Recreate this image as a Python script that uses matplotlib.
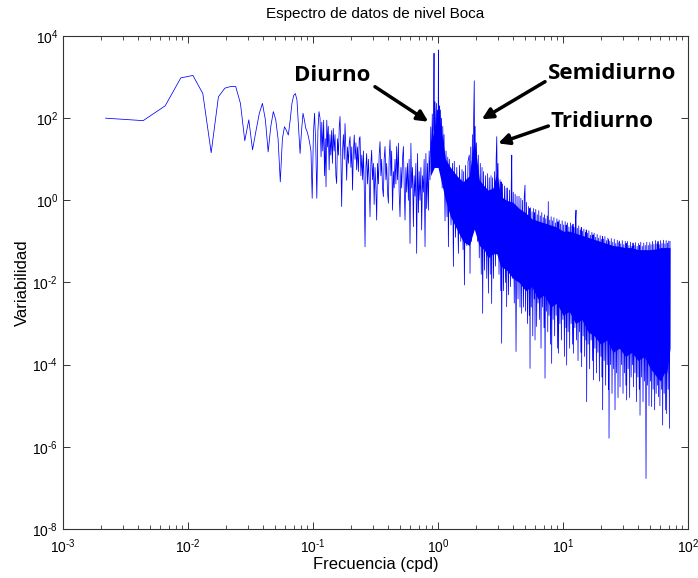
import numpy as np
import matplotlib
matplotlib.use("Agg")
import matplotlib.pyplot as plt
from matplotlib.ticker import LogLocator, FuncFormatter, NullFormatter, FixedLocator

# ---------------------------------------------------------------------------
# Spectrum of the "Boca" water-level record (10-minute sampling, ~457 days)
# ---------------------------------------------------------------------------
df_cpd = 1.0 / 457.0          # frequency resolution (cpd)

# First harmonics k = 1..53, log10 of variance
low_log_power = [2.00, 1.94, 2.30, 2.98, 3.04, 2.60, 1.16, 2.52, 2.73, 2.77,
                 2.77, 2.36, 1.45, 1.96, 1.23, 1.70, 2.12, 2.36, 1.96, 1.18,
                 1.80, 2.16, 1.96, 1.50, 0.45, 1.50, 1.79, 1.70, 1.59, 1.95,
                 2.36, 2.55, 2.60, 2.44, 1.80, 1.14, 1.70, 2.12, 1.95, 1.75,
                 1.67, 1.55, 1.39, 1.20, 0.05, 1.60, 2.12, 1.40, 0.05, 1.70,
                 2.16, 2.00, 1.06]

# 0.12 - 5.3 cpd: log10(frequency) and log10(variance) of the trace
trace_logf = [
    -0.930, -0.922, -0.915, -0.908, -0.902, -0.896, -0.890, -0.884, -0.878, -0.871,
    -0.865, -0.858, -0.851, -0.845, -0.838, -0.831, -0.824, -0.817, -0.811, -0.804,
    -0.797, -0.790, -0.784, -0.777, -0.771, -0.764, -0.757, -0.750, -0.744, -0.737,
    -0.731, -0.724, -0.717, -0.710, -0.704, -0.697, -0.690, -0.684, -0.677, -0.670,
    -0.664, -0.657, -0.651, -0.644, -0.637, -0.630, -0.624, -0.617, -0.610, -0.603,
    -0.597, -0.590, -0.584, -0.577, -0.571, -0.564, -0.557, -0.551, -0.544, -0.537,
    -0.531, -0.524, -0.517, -0.511, -0.504, -0.497, -0.491, -0.484, -0.477, -0.471,
    -0.464, -0.457, -0.451, -0.444, -0.437, -0.431, -0.424, -0.417, -0.411, -0.404,
    -0.397, -0.391, -0.384, -0.377, -0.371, -0.364, -0.357, -0.351, -0.344, -0.337,
    -0.331, -0.324, -0.317, -0.311, -0.304, -0.297, -0.291, -0.284, -0.277, -0.271,
    -0.264, -0.257, -0.251, -0.244, -0.237, -0.231, -0.224, -0.217, -0.211, -0.204,
    -0.197, -0.191, -0.184, -0.177, -0.171, -0.164, -0.157, -0.151, -0.144, -0.137,
    -0.131, -0.124, -0.117, -0.111, -0.104, -0.097, -0.091, -0.084, -0.077, -0.071,
    -0.064, -0.058, -0.052, -0.046, -0.040, -0.035, -0.032, -0.029, -0.024, -0.018,
    -0.013, -0.008, -0.004, 0.001, 0.003, 0.006, 0.010, 0.014, 0.019, 0.023,
    0.028, 0.033, 0.038, 0.043, 0.048, 0.056, 0.064, 0.072, 0.078, 0.083,
    0.090, 0.104, 0.116, 0.123, 0.130, 0.140, 0.150, 0.163, 0.172, 0.182,
    0.192, 0.200, 0.205, 0.211, 0.220, 0.230, 0.240, 0.250, 0.256, 0.262,
    0.268, 0.275, 0.280, 0.285, 0.290, 0.293, 0.297, 0.302, 0.308, 0.315,
    0.322, 0.330, 0.338, 0.346, 0.352, 0.357, 0.364, 0.372, 0.380, 0.390,
    0.397, 0.403, 0.410, 0.418, 0.424, 0.429, 0.436, 0.444, 0.452, 0.460,
    0.465, 0.470, 0.474, 0.480, 0.488, 0.496, 0.502, 0.505, 0.509, 0.516,
    0.524, 0.532, 0.540, 0.545, 0.549, 0.556, 0.564, 0.572, 0.580, 0.586,
    0.590, 0.594, 0.602, 0.610, 0.617, 0.624, 0.632, 0.640, 0.648, 0.656,
    0.663, 0.669, 0.676, 0.684, 0.690, 0.696, 0.700, 0.708, 0.716, 0.724,
]
trace_log = [
    1.90, 1.20, 1.95, 0.60, 1.50, 0.33, 1.95, 1.30, 1.80, 0.74,
    1.60, 1.10, 1.70, 0.90, 1.75, 1.20, 1.60, 0.60, 0.41, 1.50,
    1.10, 1.80, 2.04, 1.00, -0.15, 1.20, 1.60, 1.00, 1.87, 1.20,
    0.49, 1.30, 0.90, 1.40, 1.55, 0.80, 1.30, 0.25, 1.20, 1.59,
    1.00, 1.40, 0.74, 1.30, 0.70, 1.50, 1.55, 0.60, 1.10, 0.50,
    1.20, 0.30, -1.13, 0.80, 1.14, 0.40, 1.00, 0.50, -0.40, 0.90,
    1.22, 0.50, 0.90, -0.10, 0.80, 0.30, -0.48, 0.90, 0.40, 1.10,
    1.43, 0.60, 1.00, 0.30, 0.09, 1.00, 1.31, 0.50, 0.90, 0.20,
    -0.07, 1.00, 1.47, 0.60, 1.20, -0.24, 0.70, 0.30, 1.00, 0.40,
    1.31, 0.50, 1.39, 0.20, -0.40, 0.80, 0.30, 1.00, 1.31, 0.40,
    -0.48, 0.80, 0.20, 0.90, 0.00, 1.00, -1.05, 1.39, 0.30, 0.80,
    -0.64, 0.60, 0.10, 0.90, -1.29, 1.14, -0.30, 0.70, 0.00, 0.80,
    -0.72, 0.60, 0.20, 1.00, -1.13, 1.14, -0.20, 0.90, -0.24, 1.20,
    0.50, 1.79, 0.80, 2.10, 1.20, 2.30, 3.58, 1.40, 2.40, 1.00,
    2.36, 0.90, 2.20, 1.50, 3.66, 1.70, 2.30, 0.80, 2.20, 1.20,
    2.00, 0.30, 1.80, 0.90, 1.60, -0.50, 1.20, -0.40, 1.05, -1.13,
    1.00, -0.60, 0.90, -1.61, 0.95, -0.90, 0.80, -1.29, 0.85, -1.00,
    0.75, -1.20, 0.70, -2.06, 0.85, -1.10, 0.95, 1.10, -1.78, 1.30,
    -1.00, 1.60, -0.70, 2.00, 2.91, 0.50, 1.80, -0.40, 1.40, -1.00,
    1.10, -1.40, 0.90, -1.80, 0.80, -2.75, 0.70, -1.70, 0.60, -1.90,
    0.65, -2.26, 0.55, -1.80, 0.60, -2.51, 0.55, -1.90, 0.70, -1.60,
    1.00, 1.55, 0.20, 0.90, -1.80, 0.50, -2.20, 0.45, -3.48, 0.40,
    -2.20, 0.35, -2.00, 0.30, -2.59, 0.30, -2.30, 0.25, -2.10, 0.40,
    1.10, -1.90, 0.20, -2.50, 0.15, -3.68, 0.10, -2.40, 0.10, -2.60,
    0.05, -2.75, 0.00, -2.60, 0.10, 0.37, -2.70, -0.05, -3.00, -0.15,
]

# 5.4 - 72 cpd: (log10 frequency, log10 variance), alternating crest / trough
tail_points = [
    (0.730, -2.80), (0.733, -0.20), (0.736, -4.09), (0.740, -0.18), (0.746, -2.60),
    (0.752, -0.28), (0.758, -3.30), (0.764, -0.20), (0.770, -2.40), (0.773, -0.30),
    (0.776, -3.40), (0.782, -0.22), (0.789, -3.07), (0.794, -0.35), (0.800, -2.50),
    (0.806, -0.25), (0.812, -2.90), (0.818, -0.38), (0.824, -3.60), (0.830, -0.30),
    (0.836, -2.60), (0.842, -0.42), (0.848, -3.10), (0.852, -0.35), (0.856, -4.33),
    (0.862, -0.45), (0.868, -2.70), (0.874, -0.38), (0.878, -3.20), (0.882, -0.03),
    (0.888, -2.80), (0.894, -0.48), (0.900, -3.50), (0.905, -0.40), (0.909, -3.97),
    (0.915, -0.50), (0.921, -2.90), (0.927, -0.42), (0.933, -3.30), (0.939, -0.55),
    (0.945, -2.80), (0.951, -0.45), (0.957, -3.60), (0.960, -0.52), (0.963, -3.72),
    (0.969, -0.48), (0.975, -3.00), (0.981, -0.58), (0.987, -3.40), (0.993, -0.50),
    (0.999, -2.90), (1.005, -0.60), (1.011, -3.80), (1.017, -0.52), (1.023, -3.10),
    (1.026, -0.60), (1.029, -4.01), (1.035, -0.55), (1.041, -3.20), (1.047, -0.65),
    (1.053, -3.60), (1.059, -0.55), (1.065, -3.00), (1.071, -0.62), (1.077, -3.50),
    (1.080, -0.58), (1.083, -3.72), (1.089, -0.66), (1.095, -3.10), (1.100, -0.50),
    (1.104, -0.24), (1.108, -3.40), (1.114, -0.68), (1.120, -3.90), (1.126, -0.62),
    (1.132, -3.20), (1.138, -0.72), (1.143, -3.70), (1.146, -0.66), (1.149, -4.05),
    (1.155, -0.75), (1.161, -3.30), (1.167, -0.70), (1.173, -3.80), (1.179, -0.78),
    (1.183, -3.40), (1.186, -0.72), (1.189, -4.90), (1.195, -0.80), (1.201, -3.50),
    (1.207, -0.74), (1.213, -4.10), (1.219, -0.85), (1.225, -3.40), (1.231, -0.78),
    (1.237, -3.90), (1.240, -0.84), (1.243, -4.37), (1.249, -0.80), (1.255, -3.60),
    (1.261, -0.90), (1.267, -4.20), (1.273, -0.83), (1.279, -3.70), (1.285, -0.92),
    (1.291, -4.40), (1.297, -0.86), (1.303, -3.80), (1.309, -0.95), (1.313, -4.30),
    (1.315, -0.88), (1.317, -5.10), (1.323, -0.94), (1.329, -3.90), (1.335, -0.88),
    (1.341, -4.50), (1.347, -0.98), (1.353, -4.00), (1.359, -0.92), (1.363, -4.60),
    (1.365, -0.96), (1.368, -5.79), (1.374, -1.00), (1.380, -4.00), (1.386, -0.93),
    (1.392, -4.70), (1.398, -1.02), (1.404, -4.10), (1.410, -0.95), (1.416, -5.10),
    (1.422, -1.05), (1.428, -4.20), (1.434, -0.97), (1.440, -4.80), (1.446, -1.04),
    (1.452, -0.99), (1.456, -4.54), (1.462, -1.06), (1.468, -4.00), (1.474, -0.98),
    (1.480, -4.70), (1.486, -1.08), (1.492, -4.20), (1.498, -1.00), (1.503, -4.50),
    (1.506, -1.05), (1.509, -4.86), (1.515, -1.00), (1.521, -4.10), (1.527, -1.10),
    (1.533, -4.80), (1.539, -1.02), (1.545, -4.30), (1.551, -1.12), (1.557, -4.00),
    (1.560, -1.04), (1.563, -4.54), (1.569, -1.10), (1.575, -4.20), (1.581, -1.03),
    (1.587, -4.90), (1.593, -1.12), (1.599, -4.30), (1.605, -1.05), (1.610, -4.60),
    (1.613, -1.10), (1.616, -5.23), (1.622, -1.02), (1.628, -4.30), (1.634, -1.12),
    (1.640, -4.90), (1.646, -1.04), (1.652, -4.40), (1.658, -1.10), (1.664, -6.77),
    (1.670, -1.02), (1.676, -4.50), (1.682, -1.10), (1.688, -5.00), (1.694, -1.03),
    (1.700, -4.40), (1.704, -1.08), (1.709, -5.02), (1.715, -1.00), (1.721, -4.60),
    (1.727, -1.07), (1.733, -5.10), (1.739, -0.98), (1.745, -4.70), (1.751, -1.06),
    (1.757, -4.50), (1.760, -1.00), (1.763, -4.78), (1.769, -1.08), (1.775, -5.00),
    (1.781, -0.98), (1.787, -4.60), (1.792, -1.05), (1.797, -5.47), (1.803, -0.97),
    (1.809, -4.70), (1.815, -1.06), (1.821, -5.10), (1.825, -0.98), (1.829, -5.19),
    (1.835, -1.04), (1.841, -4.60), (1.846, -0.99), (1.851, -5.55), (1.856, -1.00),
]

# Dense part of the spectrum: lower/upper limits of the filled band (log10)
core_logf = [-0.06, -0.03, 0.00, 0.03, 0.06, 0.10, 0.15, 0.20, 0.25, 0.29,
             0.33, 0.37, 0.40, 0.44, 0.47, 0.50, 0.55, 0.60, 0.65, 0.70,
             0.75, 0.80, 0.85, 0.90, 0.95, 1.00, 1.05, 1.10, 1.15, 1.20,
             1.25, 1.30, 1.35, 1.40, 1.45, 1.50, 1.55, 1.60, 1.65, 1.70,
             1.75, 1.78, 1.81, 1.83, 1.856]
core_top = [1.4, 1.7, 1.9, 1.6, 1.0, 0.8, 0.6, 0.45, 0.6, 1.5,
            0.5, 0.35, 0.25, 0.3, 0.7, 0.1, 0.0, -0.05, -0.2, -0.3,
            -0.45, -0.5, -0.55, -0.6, -0.65, -0.75, -0.75, -0.8, -0.85, -0.9,
            -0.95, -1.0, -1.05, -1.1, -1.12, -1.15, -1.15, -1.2, -1.2, -1.2,
            -1.18, -1.15, -1.15, -1.15, -1.15]
core_bot = [0.6, 0.8, 0.8, 0.4, 0.0, -0.4, -0.7, -1.0, -1.1, -0.7,
            -1.1, -1.2, -1.4, -1.3, -1.3, -1.6, -1.7, -1.9, -2.0, -2.2,
            -2.1, -2.4, -2.3, -2.6, -2.5, -2.8, -2.7, -3.0, -2.9, -3.2,
            -3.3, -3.5, -3.4, -3.7, -3.6, -3.8, -3.7, -3.9, -3.8, -4.1,
            -4.3, -4.4, -4.2, -4.2, -3.6]

y_ticks = [1e-8, 1e-6, 1e-4, 1e-2, 1e0, 1e2, 1e4]

# Annotations: label, text position, arrow tail and tip (data units)
labels = ["Diurno", "Semidiurno", "Tridiurno"]
label_xy = [(0.142, 1120.0), (24.9, 1220.0), (20.4, 82.0)]
arrow_tail = [(0.313, 583.0), (7.18, 773.0), (7.63, 64.4)]
arrow_tip = [(0.836, 82.0), (2.24, 94.0), (3.03, 24.4)]

# ---------------------------------------------------------------------------
plt.rcParams["font.family"] = ["Liberation Sans", "DejaVu Sans"]
plt.rcParams["mathtext.fontset"] = "custom"
plt.rcParams["mathtext.rm"] = "Liberation Sans"
plt.rcParams["mathtext.it"] = "Liberation Sans"
plt.rcParams["mathtext.default"] = "regular"
plt.rcParams["axes.unicode_minus"] = False


def decade_label(value, pos):
    """10^n with a plain hyphen for negative exponents."""
    e = int(round(np.log10(value)))
    exp = r"\text{-}%d" % (-e) if e < 0 else "%d" % e
    return r"$10^{%s}$" % exp


fig = plt.figure(figsize=(6.98, 5.78), dpi=100)
ax = fig.add_axes([0.0903, 0.0848, 0.8954, 0.8529])

tail_logf = np.array([p[0] for p in tail_points])
tail_log = np.array([p[1] for p in tail_points])

freq_low = df_cpd * np.arange(1, len(low_log_power) + 1)
freq = np.concatenate([freq_low, 10.0 ** np.asarray(trace_logf), 10.0 ** tail_logf])
power = np.concatenate([10.0 ** np.asarray(low_log_power),
                        10.0 ** np.asarray(trace_log), 10.0 ** tail_log])

blue = (0.0, 0.0, 1.0)
ax.fill_between(10.0 ** np.asarray(core_logf), 10.0 ** np.asarray(core_bot),
                10.0 ** np.asarray(core_top), color=blue, lw=0, zorder=2)
ax.plot(freq, power, color=blue, lw=0.55, zorder=3)

ax.set_xscale("log")
ax.set_yscale("log")
ax.set_xlim(1e-3, 1e2)
ax.set_ylim(1e-8, 1e4)

ax.xaxis.set_major_locator(LogLocator(base=10, numticks=10))
ax.xaxis.set_minor_locator(LogLocator(base=10, subs=np.arange(2, 10), numticks=20))
ax.xaxis.set_major_formatter(FuncFormatter(decade_label))
ax.xaxis.set_minor_formatter(NullFormatter())
ax.yaxis.set_major_locator(FixedLocator(y_ticks))
ax.yaxis.set_minor_locator(FixedLocator([]))
ax.yaxis.set_major_formatter(FuncFormatter(decade_label))

ax.tick_params(which="both", direction="in", top=True, right=True,
               labelsize=10, color="#333333")
ax.tick_params(which="major", length=5, width=0.7)
ax.tick_params(which="minor", length=3, width=0.6)
ax.tick_params(axis="x", which="major", pad=6)
for s in ax.spines.values():
    s.set_color("#333333")
    s.set_linewidth(0.8)

ax.set_title("Espectro de datos de nivel Boca", fontsize=11, pad=13)
ax.set_xlabel("Frecuencia (cpd)", fontsize=12, labelpad=1)
ax.set_ylabel("Variabilidad", fontsize=12, labelpad=2)

for name, txy, tail, tip in zip(labels, label_xy, arrow_tail, arrow_tip):
    ax.text(txy[0], txy[1], name, fontsize=16, fontweight="bold",
            family=["Open Sans", "DejaVu Sans"], ha="center", va="center",
            zorder=5)
    ax.annotate("", xy=tip, xytext=tail,
                arrowprops=dict(arrowstyle="-|>", color="black", lw=2.5,
                                mutation_scale=16, shrinkA=0, shrinkB=0),
                zorder=5)

fig.savefig("out.png", dpi=100)
